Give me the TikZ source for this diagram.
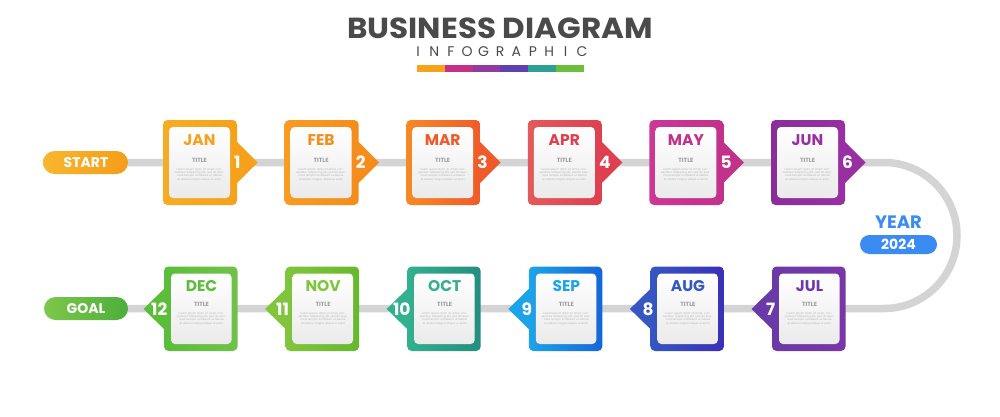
\documentclass[tikz,border=0pt]{standalone}
\usepackage{fontspec}
\setmainfont{Poppins}
\definecolor{titlegray}{HTML}{4A4A4A}
\definecolor{track}{HTML}{D4D4D4}
\definecolor{lgray}{HTML}{9C9C9C}
\definecolor{tgray}{HTML}{B4B4B4}
\definecolor{janA}{HTML}{F7AC24}\definecolor{janB}{HTML}{F5A11B}
\definecolor{febA}{HTML}{F89C22}\definecolor{febB}{HTML}{F58C1C}
\definecolor{marA}{HTML}{F58A26}\definecolor{marB}{HTML}{F05A2A}
\definecolor{aprA}{HTML}{E35A5A}\definecolor{aprB}{HTML}{DE4050}
\definecolor{mayA}{HTML}{CC3796}\definecolor{mayB}{HTML}{C2318A}
\definecolor{junA}{HTML}{8A2E9C}\definecolor{junB}{HTML}{9830A2}
\definecolor{julA}{HTML}{6A3AA8}\definecolor{julB}{HTML}{7A36A8}
\definecolor{augA}{HTML}{3656C2}\definecolor{augB}{HTML}{3A30B8}
\definecolor{sepA}{HTML}{1DA3E8}\definecolor{sepB}{HTML}{1566D8}
\definecolor{octA}{HTML}{33B08E}\definecolor{octB}{HTML}{238E7E}
\definecolor{novA}{HTML}{80C53B}\definecolor{novB}{HTML}{66B82F}
\definecolor{decA}{HTML}{5BBD3A}\definecolor{decB}{HTML}{70C24A}
\definecolor{startA}{HTML}{F8B62E}\definecolor{startB}{HTML}{F59D1A}
\definecolor{goalA}{HTML}{7CC84A}\definecolor{goalB}{HTML}{4DAE3B}
\definecolor{yearblue}{HTML}{3B8CF2}
\definecolor{barA}{HTML}{F5A31A}\definecolor{barB}{HTML}{C5308B}
\definecolor{barC}{HTML}{923B9F}\definecolor{barD}{HTML}{6040B0}
\definecolor{barE}{HTML}{2CA092}\definecolor{barF}{HTML}{6CBF3A}
\tikzset{
  monthlbl/.style={font=\bfseries\fontsize{15.5}{15.5}\selectfont, inner sep=0pt},
  numlbl/.style={font=\bfseries\fontsize{17}{17}\selectfont, text=white, inner sep=0pt},
  titlelbl/.style={font=\bfseries\fontsize{6}{6}\selectfont, text=lgray, inner sep=0pt},
  loremlbl/.style={font=\fontsize{2.7}{3.4}\selectfont, text=tgray, text width=54pt, align=center, inner sep=0pt},
  pilllbl/.style={font=\bfseries\fontsize{14}{14}\selectfont, text=white, inner sep=0pt},
  panel/.style={top color=white, bottom color=black!8, rounded corners=4pt},
}
\newcommand\lorem{Lorem ipsum dolor sit amet, consectetur adipiscing elit, sed do eiusmod tempor incididunt ut labore et dolore magna aliqua ut enim}
\begin{document}
\begin{tikzpicture}[x=1pt,y=-1pt]
\useasboundingbox (0,0) rectangle (1000,417);
\fill[white] (0,0) rectangle (1000,417);
% title
\node[font=\bfseries\fontsize{29}{29}\selectfont, text=titlegray, inner sep=0pt] (title) at (500,28) {\scalebox{1.07}[1]{BUSINESS DIAGRAM}};
\foreach \c [count=\k from 0] in {I,N,F,O,G,R,A,P,H,I,C}
  \node[font=\fontsize{14}{14}\selectfont, text=titlegray, inner sep=0pt] (inf\k) at (418+16.4*\k,52) {\c};
\foreach \cc [count=\k from 0] in {barA,barB,barC,barD,barE,barF}
  \fill[\cc] (417+27.8*\k,65) rectangle (417+27.8*\k+28,72.5);
% track
\coordinate (t0) at (100,162.5);
\coordinate (t1) at (884,162.5);
\coordinate (t4) at (884,308.5);
\coordinate (t5) at (100,308.5);
\draw[track, line width=7.5pt] (t0) -- (t1) arc[start angle=90, end angle=-90, radius=73pt] -- (t5);
% start / goal pills
\path[left color=startA, right color=startB, rounded corners=11.5pt] (43,151) rectangle (128,174);
\node[pilllbl] (start) at (86,162.5) {START};
\path[left color=goalA, right color=goalB, rounded corners=11.5pt] (44,297) rectangle (128,320);
\node[pilllbl] (goal) at (86,308.5) {GOAL};
% year
\node[font=\bfseries\fontsize{18}{18}\selectfont, text=yearblue, inner sep=0pt] (year) at (898.5,222) {YEAR};
\fill[yearblue, rounded corners=9.5pt] (860,235) rectangle (937,254);
\node[pilllbl] (yr) at (898.5,244.5) {2024};
% top row
\foreach \i/\m/\ca/\cb in {0/JAN/janA/janB,1/FEB/febA/febB,2/MAR/marA/marB,3/APR/aprA/aprB,4/MAY/mayA/mayB,5/JUN/junA/junB}{
  \pgfmathsetmacro\L{163+121.6*\i}
  \pgfmathsetmacro\R{\L+74}
  \pgfmathtruncatemacro\n{\i+1}
  \fill[\cb] (\R-2,140) -- (\R+20.5,162.5) -- (\R-2,185) -- cycle;
  \path[left color=\ca, right color=\cb, rounded corners=4.5pt] (\L,120) rectangle (\R,205);
  \path[panel] (\L+6,127) rectangle (\R-7,198);
  \node[monthlbl, text=\cb] (m\n) at (\L+36.5,140.5) {\m};
  \node[titlelbl] (ti\n) at (\L+36.5,160.5) {TITLE};
  \node[loremlbl] (lo\n) at (\L+36.5,174.5) {\lorem};
  \node[numlbl, anchor=west] (n\n) at (\R-3,162.5) {\n};
}
% bottom row
\foreach \i/\m/\ca/\cb/\n in {0/DEC/decA/decB/12,1/NOV/novA/novB/11,2/OCT/octA/octB/10,3/SEP/sepA/sepB/9,4/AUG/augA/augB/8,5/JUL/julA/julB/7}{
  \pgfmathsetmacro\L{164+121.6*\i}
  \pgfmathsetmacro\R{\L+73.5}
  \fill[\ca] (\L+2,287) -- (\L-20.5,309) -- (\L+2,331) -- cycle;
  \path[left color=\ca, right color=\cb, rounded corners=4.5pt] (\L,266.5) rectangle (\R,351);
  \path[panel] (\L+7,273.5) rectangle (\R-6,344);
  \node[monthlbl, text=\ca] (m\n) at (\L+37.5,286.5) {\m};
  \node[titlelbl] (ti\n) at (\L+37.5,304.5) {TITLE};
  \node[loremlbl] (lo\n) at (\L+37.5,318.5) {\lorem};
  \node[numlbl, anchor=east] (n\n) at (\L+3.5,309) {\n};
}
\end{tikzpicture}
\end{document}
